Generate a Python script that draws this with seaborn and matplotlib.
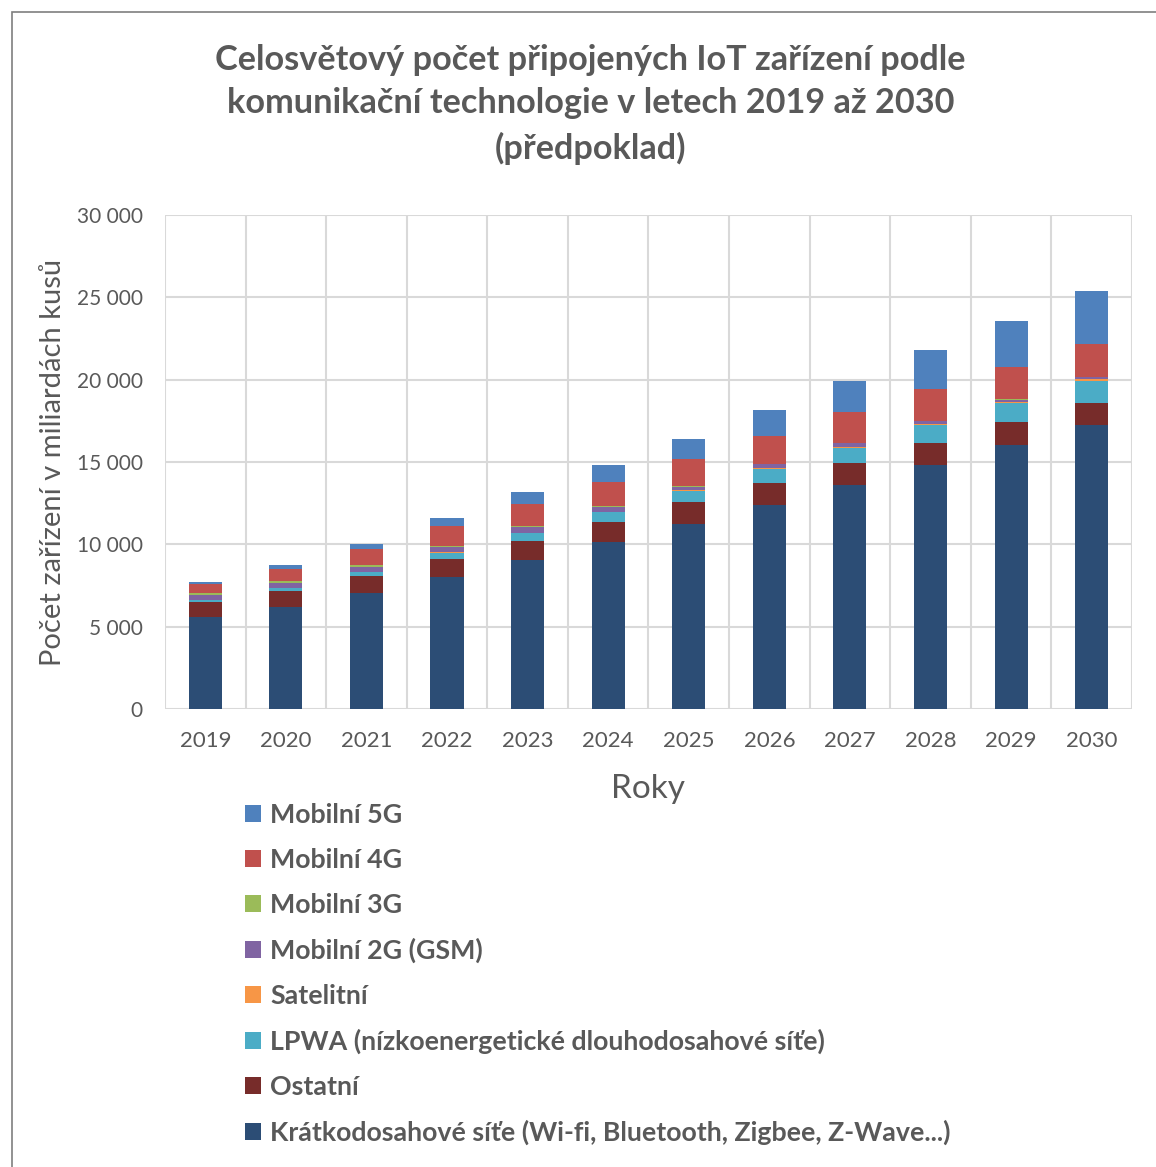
import numpy as np
import pandas as pd
import matplotlib
matplotlib.use("Agg")
import matplotlib.pyplot as plt
import seaborn as sns
from matplotlib.patches import Patch, Rectangle
from matplotlib.ticker import FuncFormatter, FixedLocator

# Data
years = ["2019", "2020", "2021", "2022", "2023", "2024", "2025", "2026", "2027", "2028", "2029", "2030"]
short_range = [5605, 6213, 7045, 8016, 9049, 10142, 11253, 12389, 13585, 14818, 16033, 17266]
ostatni = [874, 972, 1032, 1093, 1172, 1235, 1300, 1316, 1336, 1336, 1378, 1336]
lpwa = [121, 162, 223, 385, 466, 571, 686, 850, 947, 1093, 1172, 1336]
satelit = [10, 12, 15, 20, 25, 30, 40, 50, 60, 70, 80, 90]
mobile_2g = [304, 283, 304, 328, 344, 304, 225, 243, 206, 140, 121, 121]
mobile_3g = [121, 100, 100, 60, 50, 40, 40, 30, 25, 20, 15, 10]
mobile_4g = [567, 771, 990, 1190, 1312, 1476, 1620, 1721, 1883, 1968, 1968, 2004]
mobile_5g = [121, 202, 304, 528, 769, 1012, 1235, 1579, 1903, 2326, 2769, 3237]

series_names = [
    "Krátkodosahové síťe (Wi-fi, Bluetooth, Zigbee, Z-Wave...)",
    "Ostatní",
    "LPWA (nízkoenergetické dlouhodosahové síťe)",
    "Satelitní",
    "Mobilní 2G (GSM)",
    "Mobilní 3G",
    "Mobilní 4G",
    "Mobilní 5G",
]
series_colors = ["#2C4D75", "#772C2A", "#4BACC6", "#F79646", "#8064A2", "#9BBB59", "#C0504D", "#4F81BD"]

df = pd.DataFrame({
    "Rok": years,
    series_names[0]: short_range,
    series_names[1]: ostatni,
    series_names[2]: lpwa,
    series_names[3]: satelit,
    series_names[4]: mobile_2g,
    series_names[5]: mobile_3g,
    series_names[6]: mobile_4g,
    series_names[7]: mobile_5g,
})

sns.set_theme(style="white")
plt.rcParams["font.family"] = ["Lato", "DejaVu Sans"]
gray = "#595959"

fig = plt.figure(figsize=(11.56, 11.67), dpi=100)
ax = fig.add_axes([0.1427, 0.3925, 0.8365, 0.4233])

# Stacked bars: draw cumulative totals from the top layer down
cum = df[series_names].cumsum(axis=1)
for name, color in reversed(list(zip(series_names, series_colors))):
    sns.barplot(x=df["Rok"], y=cum[name], color=color, width=0.41,
                saturation=1, ax=ax, linewidth=0)

ax.set_xlim(-0.5, len(years) - 0.5)
ax.set_ylim(0, 30000)
ax.set_yticks(np.arange(0, 30001, 5000))
ax.yaxis.set_major_formatter(FuncFormatter(lambda v, p: f"{int(v):,}".replace(",", " ")))
ax.xaxis.set_minor_locator(FixedLocator(np.arange(-0.5, len(years), 1.0)))
ax.grid(axis="y", which="major", color="#d9d9d9", linewidth=1.5)
ax.grid(axis="x", which="minor", color="#d9d9d9", linewidth=1.5)
ax.set_axisbelow(True)
for s in ax.spines.values():
    s.set_visible(False)
ax.tick_params(axis="both", which="both", length=0, labelcolor=gray)
ax.tick_params(axis="y", labelsize=15, pad=16)
ax.tick_params(axis="x", labelsize=16, pad=16)

ax.set_xlabel("Roky", fontsize=24, color=gray, labelpad=16.5)
ax.set_ylabel("Počet zařízení v miliardách kusů", fontsize=21, color=gray, labelpad=8)

fig.text(0.511, 0.9626, "Celosvětový počet připojených IoT zařízení podle\n"
         "komunikační technologie v letech 2019 až 2030\n(předpoklad)",
         ha="center", va="top", fontsize=24.7, fontweight="bold", color=gray,
         linespacing=1.45)

handles = [Patch(facecolor=c, edgecolor="none") for c in reversed(series_colors)]
leg = fig.legend(handles, list(reversed(series_names)), loc="upper left",
                 bbox_to_anchor=(0.191, 0.3325), frameon=False, ncol=1,
                 handlelength=0.6, handleheight=0.6, handletextpad=0.34,
                 labelspacing=0.78, prop={"size": 19.3, "weight": "bold"})
for t in leg.get_texts():
    t.set_color(gray)

# outer chart frame
fig.patches.append(Rectangle((12 / 1156, -0.01), 1.1, 1 - 12 / 1167 + 0.01,
                             transform=fig.transFigure, fill=False,
                             edgecolor="#7f7f7f", linewidth=1.2))

fig.savefig("out.png", dpi=100)
